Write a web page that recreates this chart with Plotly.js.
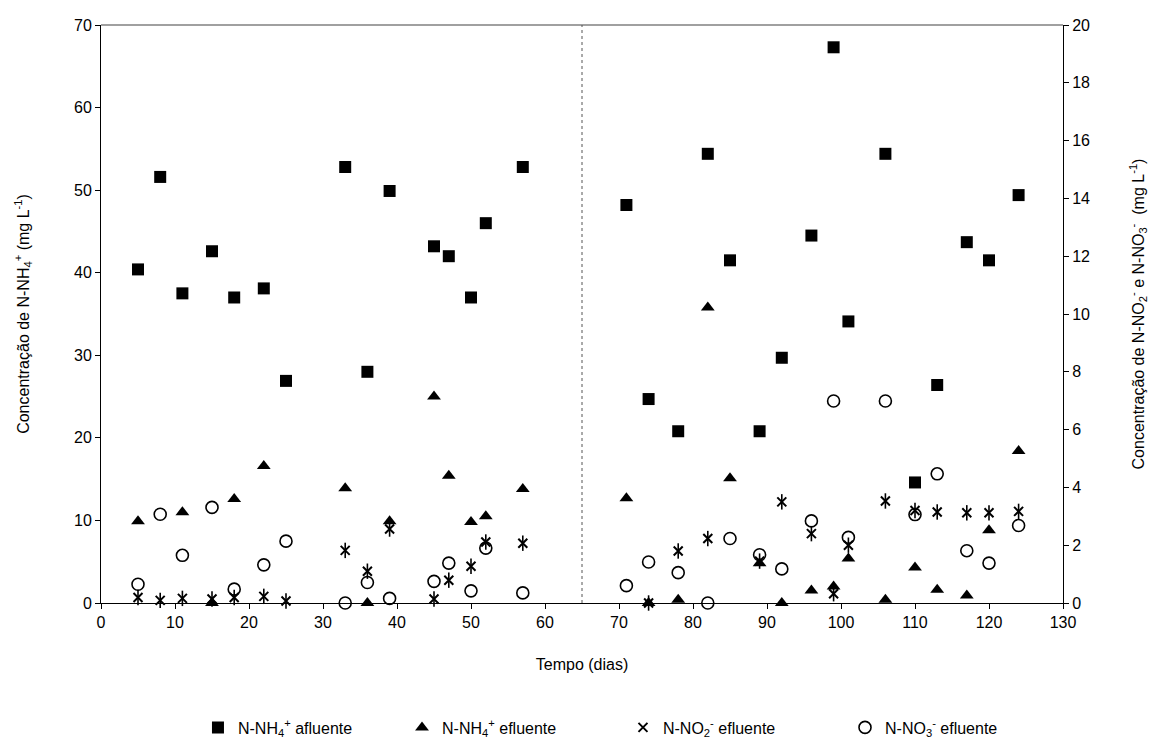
<!DOCTYPE html>
<html>
<head>
<meta charset="utf-8">
<script src="https://cdn.plot.ly/plotly-3.0.1.min.js"></script>
<style>html,body{margin:0;padding:0;background:#fff;}#chart{width:1151px;height:745px;}</style>
</head>
<body>
<div id="chart"></div>
<script>
// Tempo (dias) e valores
const diasAfluente = [5,8,11,15,18,22,25,33,36,39,45,47,50,52,57,71,74,78,82,85,89,92,96,99,101,106,110,113,117,120,124];
const nh4Afluente  = [40.4,51.6,37.5,42.6,37.0,38.1,26.9,52.8,28.0,49.9,43.2,42.0,37.0,46.0,52.8,48.2,24.7,20.8,54.4,41.5,20.8,29.7,44.5,67.3,34.1,54.4,14.6,26.4,43.7,41.5,49.4];

const diasNH4Ef = [5,11,15,18,22,33,36,39,45,47,50,52,57,71,74,78,82,85,89,92,96,99,101,106,110,113,117,120,124];
const nh4Efluente = [9.9,11.0,0,12.6,16.6,13.9,0,9.9,25.0,15.4,9.8,10.5,13.8,12.7,0,0.4,35.8,15.1,4.8,0,1.5,2.0,5.4,0.4,4.3,1.6,0.9,8.8,18.4];

const diasNO2 = [5,8,11,15,18,22,25,33,36,39,45,47,50,52,57,74,78,82,89,92,96,99,101,106,110,113,117,120,124];
const no2Efluente = [0.19,0.09,0.16,0.14,0.19,0.23,0.07,1.82,1.10,2.56,0.14,0.79,1.27,2.11,2.07,0.0,1.80,2.23,1.45,3.50,2.40,0.32,2.0,3.53,3.2,3.15,3.12,3.12,3.17];

const diasNO3 = [5,8,11,15,18,22,25,33,36,39,45,47,50,52,57,71,74,78,82,85,89,92,96,99,101,106,110,113,117,120,124];
const no3Efluente = [0.65,3.07,1.65,3.31,0.48,1.32,2.14,0.0,0.71,0.16,0.75,1.38,0.42,1.90,0.35,0.60,1.42,1.05,0.0,2.23,1.67,1.18,2.84,6.99,2.27,6.99,3.06,4.47,1.81,1.38,2.68];

const nomes = ['N-NH<sub>4</sub><sup>+</sup> afluente','N-NH<sub>4</sub><sup>+</sup> efluente','N-NO<sub>2</sub><sup>-</sup> efluente','N-NO<sub>3</sub><sup>-</sup> efluente'];
const divisaoFase = 65;

const FONT = 'Liberation Sans, Arial, sans-serif';

const traces = [
  {x: diasAfluente, y: nh4Afluente, name: nomes[0], type:'scatter', mode:'markers', cliponaxis:false, legend:'legend',
   marker:{symbol:'square', size:12, color:'#000'}},
  {x: diasNH4Ef, y: nh4Efluente, name: nomes[1], type:'scatter', mode:'markers', cliponaxis:false, legend:'legend2',
   marker:{symbol:'triangle-up', size:12, color:'#000'}},
  {x: diasNO2, y: no2Efluente, name: nomes[2], type:'scatter', mode:'markers', yaxis:'y2', cliponaxis:false, legend:'legend3',
   marker:{symbol:'x-thin-open', size:9, color:'#000', line:{color:'#000', width:2}}},
  {x: diasNO2, y: no2Efluente, name: nomes[2], type:'scatter', mode:'markers', yaxis:'y2', cliponaxis:false, showlegend:false,
   marker:{symbol:'line-ns-open', size:11, color:'#000', line:{color:'#000', width:1.6}}},
  {x: diasNO3, y: no3Efluente, name: nomes[3], type:'scatter', mode:'markers', yaxis:'y2', cliponaxis:false, legend:'legend4',
   marker:{symbol:'circle-open', size:12, color:'#000', line:{color:'#000', width:1.6}}}
];

function leg(x) {
  return {orientation:'h', x:x, xanchor:'left', y:-0.186, yanchor:'top', bgcolor:'rgba(0,0,0,0)',
          font:{family:FONT, size:16, color:'#000'}, itemwidth:30};
}

const layout = {
  width:1151, height:745,
  margin:{l:101, r:88, t:25, b:142, autoexpand:false},
  paper_bgcolor:'#fff', plot_bgcolor:'#fff',
  font:{family:FONT, size:16, color:'#000'},
  showlegend:true,
  legend: leg(0.1008),
  legend2: leg(0.3129),
  legend3: leg(0.5426),
  legend4: leg(0.7734),
  xaxis:{range:[0,130], dtick:10, tick0:0, showgrid:false, zeroline:false,
         showline:true, linecolor:'#000', linewidth:1,
         ticks:'outside', ticklen:5, tickcolor:'#000',
         tickfont:{family:FONT, size:16},
         title:{text:'Tempo (dias)', font:{family:FONT, size:16}, standoff:28}},
  yaxis:{range:[0,70], dtick:10, tick0:0, showgrid:false, zeroline:false,
         showline:true, linecolor:'#000', linewidth:1,
         ticks:'outside', ticklen:5, tickcolor:'#000',
         tickfont:{family:FONT, size:16},
         title:{text:'Concentração de N-NH<sub>4</sub><sup>+</sup> (mg L<sup>-1</sup>)', font:{family:FONT, size:16}, standoff:40}},
  yaxis2:{range:[0,20], dtick:2, tick0:0, overlaying:'y', side:'right', showgrid:false, zeroline:false,
          showline:true, linecolor:'#000', linewidth:1,
          ticks:'outside', ticklen:5, tickcolor:'#000',
          tickfont:{family:FONT, size:16},
          title:{text:'Concentração de N-NO<sub>2</sub><sup>-</sup> e N-NO<sub>3</sub><sup>-</sup>  (mg L<sup>-1</sup>)', font:{family:FONT, size:16}, standoff:43}},
  shapes:[
    {type:'line', xref:'paper', yref:'paper', x0:0, x1:1, y0:1, y1:1, line:{color:'#808080', width:1.5}},
    {type:'line', xref:'x', yref:'paper', x0:divisaoFase, x1:divisaoFase, y0:0, y1:1, line:{color:'#555', width:1, dash:'dot'}}
  ]
};

Plotly.newPlot('chart', traces, layout, {displayModeBar:false, staticPlot:true});
</script>
</body>
</html>
